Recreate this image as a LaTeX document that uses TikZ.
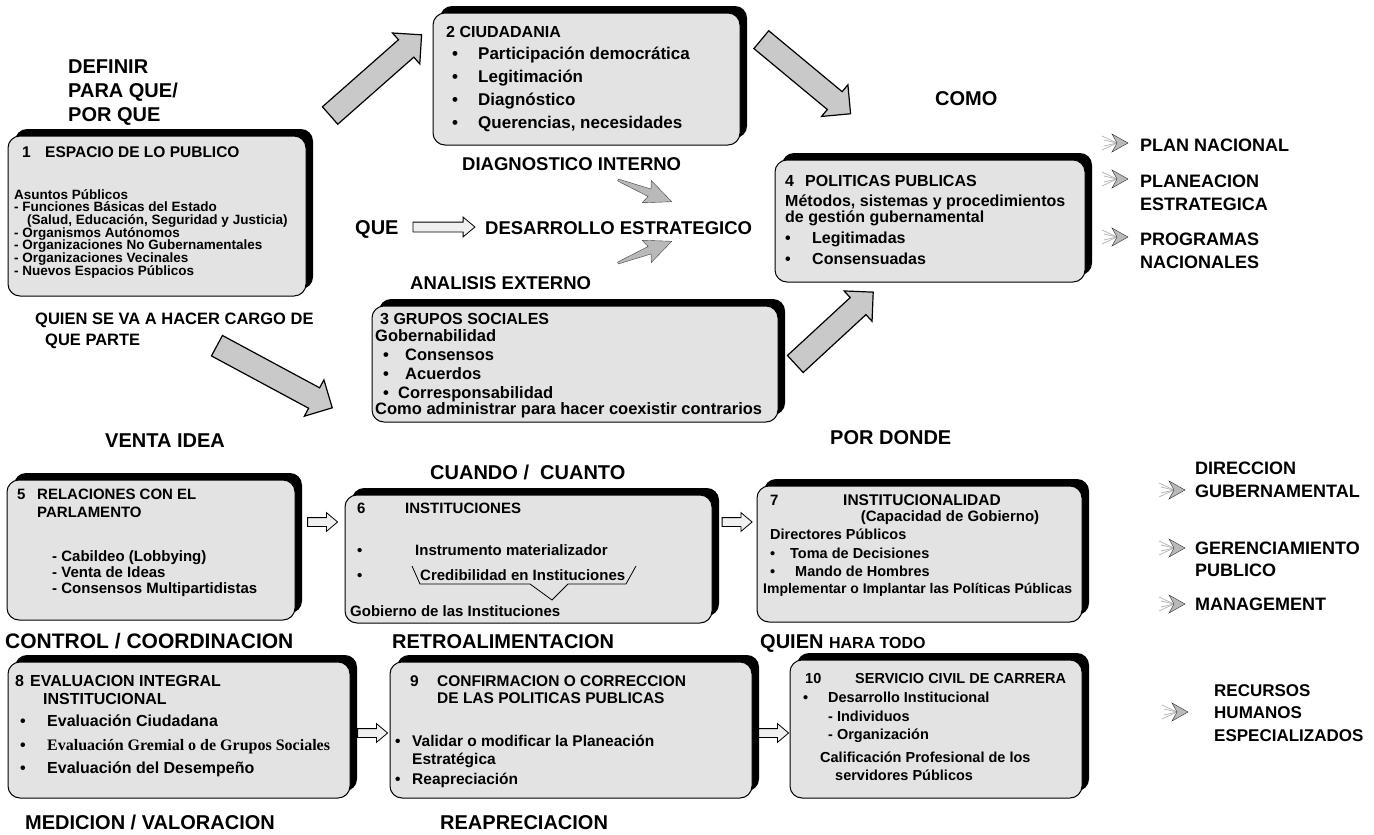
\documentclass[tikz,border=0pt]{standalone}
\usepackage{fontspec}
\setmainfont{Liberation Sans}
\newfontfamily\serifface{Liberation Serif}
\usetikzlibrary{shapes.arrows,shadows,calc}

% bold text at a given pixel size
\newcommand\fs[1]{\fontsize{#1}{#1}\selectfont\bfseries}
% bullet with a fixed gap before the item text
\newcommand\bul[1][20pt]{\makebox[#1][l]{\textbullet}}

\begin{document}
\begin{tikzpicture}[x=1pt,y=-1pt,
  panel/.style={draw=black, line width=1pt, fill=gray!22, rounded corners=12pt, inner sep=0pt,
    drop shadow={shadow xshift=7pt, shadow yshift=7pt, fill=black, opacity=1}},
  tx/.style={anchor=base west, inner sep=0pt},
  lab/.style={tx, font=\fs{20}},
  labm/.style={tx, font=\fs{18.5}},
  rlab/.style={tx, font=\fs{18}},
  bigarrow/.style={single arrow, draw=black, line width=1.2pt, fill=gray!42,
    inner xsep=0pt, inner ysep=11pt, single arrow head extend=9pt, single arrow tip angle=90},
  smallarrow/.style={single arrow, draw=black, line width=0.8pt, fill=gray!12,
    inner xsep=0pt, inner ysep=4pt, single arrow head extend=5pt, single arrow tip angle=80,
    minimum height=30pt},
  feather/.pic={
    \draw[gray!60, line width=0.7pt] (-26,-7) -- (-11,0) -- (-26,7);
    \draw[gray!60, line width=0.7pt] (-24,-3) -- (-11,0) -- (-24,3);
    \fill[gray!55, draw=gray!35!black, line width=0.4pt] (0,0) -- (-16,-9) -- (-11,0) -- (-16,9) -- cycle;
  },
  streak/.pic={
    \fill[gray!55, draw=gray!50!black, line width=0.4pt]
      (0,-1) -- (34,-4) -- (31,-12) -- (58,0) -- (31,12) -- (34,4) -- (0,1) -- cycle;
  }
]
\useasboundingbox (0,0) rectangle (1374,835);
\fill[white] (0,0) rectangle (1374,835);

% ---------------- panels ----------------
\node[panel, minimum width=298pt, minimum height=160pt] (b1) at (157,216) {};
\node[panel, minimum width=307pt, minimum height=132pt] (b2) at (586.5,79) {};
\node[panel, minimum width=406pt, minimum height=116pt] (b3) at (575,364) {};
\node[panel, minimum width=310pt, minimum height=122pt] (b4) at (930,221) {};
\node[panel, minimum width=288pt, minimum height=140pt] (b5) at (151,550) {};
\node[panel, minimum width=367pt, minimum height=128pt] (b6) at (528.5,559) {};
\node[panel, minimum width=325pt, minimum height=136pt] (b7) at (919.5,554) {};
\node[panel, minimum width=342pt, minimum height=136pt] (b8) at (179,730) {};
\node[panel, minimum width=362pt, minimum height=136pt] (b9) at (571,730) {};
\node[panel, minimum width=292pt, minimum height=138pt] (b10) at (936,729) {};

% ---------------- big block arrows ----------------
\node[bigarrow, minimum height=122pt, rotate=41.4] (a1) at (371.5,79) {};
\node[bigarrow, minimum height=116pt, rotate=-39.7] (a2) at (801.5,73) {};
\node[bigarrow, minimum height=131pt, rotate=-28.3] (a3) at (269.5,374) {};
\node[bigarrow, minimum height=106pt, rotate=42.7] (a4) at (830,332) {};

% ---------------- small hollow arrows ----------------
\node[smallarrow, minimum height=62pt, inner ysep=4.5pt] (aque) at (441,227) {};
\node[smallarrow] (a56) at ($(b5.east |- 0,522)!0.5!(b6.west |- 0,522)$) {};
\node[smallarrow] (a67) at ($(b6.east |- 0,522)!0.5!(b7.west |- 0,522)$) {};
\node[smallarrow] (a89) at ($(b8.east |- 0,733)!0.5!(b9.west |- 0,733)$) {};
\node[smallarrow] (a910) at ($(b9.east |- 0,733)!0.5!(b10.west |- 0,733)$) {};

% streaked arrows toward DESARROLLO ESTRATEGICO
\pic[rotate=-22] at (618,180) {streak};
\pic[rotate=22] at (618,263) {streak};

% ---------------- free labels ----------------
\node[lab] (l1) at (68,73) {DEFINIR};
\node[lab] (l2) at (68,97) {PARA QUE/};
\node[lab] (l3) at (68,121) {POR QUE};
\node[lab] (l4) at (935,105) {COMO};
\node[labm] (l5) at (462,170) {DIAGNOSTICO INTERNO};
\node[lab] (l6) at (355,234) {QUE};
\node[labm] (l7) at (485,234) {DESARROLLO ESTRATEGICO};
\node[labm] (l8) at (410,289) {ANALISIS EXTERNO};
\node[tx, font=\fs{16.5}] (l9) at (35,324) {QUIEN SE VA A HACER CARGO DE};
\node[tx, font=\fs{16.5}] (l10) at (45,345) {QUE PARTE};
\node[lab] (l11) at (105,447.5) {VENTA IDEA};
\node[lab] (l12) at (830,444.5) {POR DONDE};
\node[lab] (l13) at (430,479.5) {CUANDO /\ \ CUANTO};
\node[tx, font=\fs{21}] (l14) at (5,648) {CONTROL / COORDINACION};
\node[lab] (l15) at (392,648) {RETROALIMENTACION};
\node[lab] (l16) at (760,648) {QUIEN {\fs{16}HARA TODO}};
\node[lab] (l17) at (25,829) {MEDICION / VALORACION};
\node[lab] (l18) at (440,829) {REAPRECIACION};

% right-hand outcomes
\pic at (1128,143) {feather};
\node[rlab] (r1) at (1140,151.5) {PLAN NACIONAL};
\pic at (1128,179) {feather};
\node[rlab] (r2) at (1140,187.5) {PLANEACION};
\node[rlab] (r3) at (1140,210.5) {ESTRATEGICA};
\pic at (1128,237) {feather};
\node[rlab] (r4) at (1140,245.5) {PROGRAMAS};
\node[rlab] (r5) at (1140,268.5) {NACIONALES};
\pic at (1185,490) {feather};
\node[rlab] (r6) at (1195,474.5) {DIRECCION};
\node[rlab] (r7) at (1195,497.5) {GUBERNAMENTAL};
\pic at (1185,548) {feather};
\node[rlab] (r8) at (1195,554.5) {GERENCIAMIENTO};
\node[rlab] (r9) at (1195,576.5) {PUBLICO};
\pic at (1185,604) {feather};
\node[rlab] (r10) at (1195,610.5) {MANAGEMENT};
\pic at (1188,712) {feather};
\node[rlab, font=\fs{17}] (r11) at (1214,696.5) {RECURSOS};
\node[rlab, font=\fs{17}] (r12) at (1214,718.5) {HUMANOS};
\node[rlab, font=\fs{17}] (r13) at (1214,741.5) {ESPECIALIZADOS};

% ---------------- panel 1 ----------------
\node[tx, font=\fs{15.5}] (t1n) at (22,157) {1};
\node[tx, font=\fs{15.5}] (t1t) at (45,157) {ESPACIO DE LO PUBLICO};
\node[tx, font=\fs{13.5}] (t1a) at (14,199) {Asuntos Públicos};
\node[tx, font=\fs{13.5}] (t1b) at (14,211.7) {- Funciones Básicas del Estado};
\node[tx, font=\fs{13.5}] (t1c) at (27,224.4) {(Salud, Educación, Seguridad y Justicia)};
\node[tx, font=\fs{13.5}] (t1d) at (14,237.1) {- Organismos Autónomos};
\node[tx, font=\fs{13.5}] (t1e) at (14,249.8) {- Organizaciones No Gubernamentales};
\node[tx, font=\fs{13.5}] (t1f) at (14,262.5) {- Organizaciones Vecinales};
\node[tx, font=\fs{13.5}] (t1g) at (14,275.2) {- Nuevos Espacios Públicos};

% ---------------- panel 2 ----------------
\node[tx, font=\fs{16}] (t2t) at (446,37) {2 CIUDADANIA};
\node[tx, font=\fs{17}] (t2a) at (452,59) {\bul[26pt]Participación democrática};
\node[tx, font=\fs{17}] (t2b) at (452,82) {\bul[26pt]Legitimación};
\node[tx, font=\fs{17}] (t2c) at (452,105) {\bul[26pt]Diagnóstico};
\node[tx, font=\fs{17}] (t2d) at (452,128) {\bul[26pt]Querencias, necesidades};

% ---------------- panel 3 ----------------
\node[tx, font=\fs{16}] (t3t) at (380,324) {3 GRUPOS SOCIALES};
\node[tx, font=\fs{16.5}] (t3a) at (375,341) {Gobernabilidad};
\node[tx, font=\fs{16.5}] (t3b) at (383,360) {\bul[22pt]Consensos};
\node[tx, font=\fs{16.5}] (t3c) at (383,379) {\bul[22pt]Acuerdos};
\node[tx, font=\fs{16.5}] (t3d) at (383,398) {\bul[15pt]Corresponsabilidad};
\node[tx, font=\fs{16.5}] (t3e) at (375,414) {Como administrar para hacer coexistir contrarios};

% ---------------- panel 4 ----------------
\node[tx, font=\fs{16}] (t4n) at (785,186) {4};
\node[tx, font=\fs{16}] (t4t) at (805,186) {POLITICAS PUBLICAS};
\node[tx, font=\fs{16}] (t4a) at (785,206) {Métodos, sistemas y procedimientos};
\node[tx, font=\fs{16}] (t4b) at (785,222) {de gestión gubernamental};
\node[tx, font=\fs{16}] (t4c) at (785,243) {\bul[27pt]Legitimadas};
\node[tx, font=\fs{16}] (t4d) at (785,264) {\bul[27pt]Consensuadas};

% ---------------- panel 5 ----------------
\node[tx, font=\fs{15}] (t5n) at (17,499.5) {5};
\node[tx, font=\fs{15}] (t5t) at (37,499.5) {RELACIONES CON EL};
\node[tx, font=\fs{15}] (t5u) at (37,517.5) {PARLAMENTO};
\node[tx, font=\fs{15}] (t5a) at (52,561.5) {- Cabildeo (Lobbying)};
\node[tx, font=\fs{15}] (t5b) at (52,577.5) {- Venta de Ideas};
\node[tx, font=\fs{15}] (t5c) at (52,593.5) {- Consensos Multipartidistas};

% ---------------- panel 6 ----------------
\node[tx, font=\fs{15}] (t6n) at (357,513.5) {6};
\node[tx, font=\fs{15}] (t6t) at (405,513.5) {INSTITUCIONES};
\node[tx, font=\fs{15}] (t6a) at (357,555.5) {\bul[58pt]Instrumento materializador};
\node[tx, font=\fs{15}] (t6b) at (357,580.5) {\bul[63pt]Credibilidad en Instituciones};
\node[tx, font=\fs{15}] (t6c) at (350,616) {Gobierno de las Instituciones};
\draw[line width=0.8pt] (412,566) -- (420,584) -- (530,584) -- (552,600) -- (568,584)
  -- (626,584) -- (636,566);

% ---------------- panel 7 ----------------
\node[tx, font=\fs{15}] (t7n) at (770,505) {7};
\node[anchor=base, inner sep=0pt, font=\fs{15.5}] (t7t) at (922,505) {INSTITUCIONALIDAD};
\node[anchor=base, inner sep=0pt, font=\fs{15}] (t7u) at (950,521) {(Capacidad de Gobierno)};
\node[tx, font=\fs{14.5}] (t7a) at (770,539) {Directores Públicos};
\node[tx, font=\fs{14.5}] (t7b) at (770,558) {\bul[20pt]Toma de Decisiones};
\node[tx, font=\fs{14.5}] (t7c) at (770,576) {\bul[25pt]Mando de Hombres};
\node[tx, font=\fs{14}] (t7d) at (763,593) {Implementar o Implantar las Políticas Públicas};

% ---------------- panel 8 ----------------
\node[tx, font=\fs{16}] (t8n) at (15,686) {8};
\node[tx, font=\fs{16}] (t8t) at (30,686) {EVALUACION INTEGRAL};
\node[tx, font=\fs{16}] (t8u) at (43,704) {INSTITUCIONAL};
\node[tx, font=\fs{16}] (t8a) at (20,726) {\bul[27pt]Evaluación Ciudadana};
\node[tx, font=\fs{16}] (t8b) at (20,750) {\bul[27pt]{\serifface Evaluación Gremial o de Grupos Sociales}};
\node[tx, font=\fs{16}] (t8c) at (20,773) {\bul[27pt]Evaluación del Desempeño};

% ---------------- panel 9 ----------------
\node[tx, font=\fs{15.5}] (t9n) at (410,686) {9};
\node[tx, font=\fs{15.5}] (t9t) at (437,686) {CONFIRMACION O CORRECCION};
\node[tx, font=\fs{15.5}] (t9u) at (437,703) {DE LAS POLITICAS PUBLICAS};
\node[tx, font=\fs{15.5}] (t9a) at (395,746) {\bul[17pt]Validar o modificar la Planeación};
\node[tx, font=\fs{15.5}] (t9b) at (412,764) {Estratégica};
\node[tx, font=\fs{15.5}] (t9c) at (395,784) {\bul[17pt]Reapreciación};

% ---------------- panel 10 ----------------
\node[tx, font=\fs{14.5}] (t10n) at (805,683) {10};
\node[tx, font=\fs{14.5}] (t10t) at (855,683) {SERVICIO CIVIL DE CARRERA};
\node[tx, font=\fs{14.5}] (t10a) at (803,702) {\bul[25pt]Desarrollo Institucional};
\node[tx, font=\fs{14.5}] (t10b) at (828,721) {- Individuos};
\node[tx, font=\fs{14.5}] (t10c) at (828,739) {- Organización};
\node[tx, font=\fs{14.5}] (t10d) at (820,762) {Calificación Profesional de los};
\node[tx, font=\fs{14.5}] (t10e) at (835,780) {servidores Públicos};

\end{tikzpicture}
\end{document}
